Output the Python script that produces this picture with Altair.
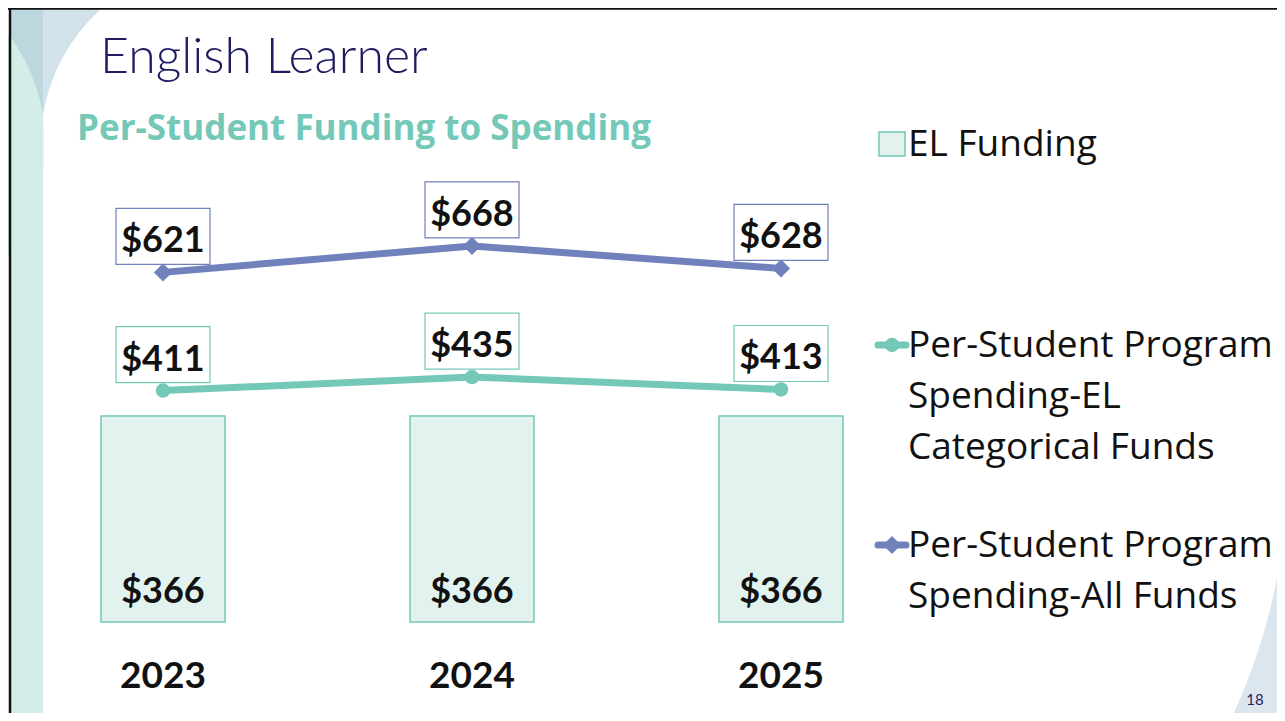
import altair as alt
import pandas as pd

# ---- data ----
years = [2023, 2024, 2025]
el_funding = [366, 366, 366]
spend_el = [411, 435, 413]
spend_all = [621, 668, 628]

title_text = "English Learner"
subtitle_text = "Per-Student Funding to Spending"
legend_bar = "EL Funding"
legend_el = ["Per-Student Program", "Spending-EL", "Categorical Funds"]
legend_all = ["Per-Student Program", "Spending-All Funds"]
page_no = "18"

df = pd.DataFrame({
    "year": years,
    "el_funding": el_funding,
    "spend_el": spend_el,
    "spend_all": spend_all,
})
one = pd.DataFrame({"k": [0]})

# ---- styles ----
TEAL = "#74c8b7"
PURPLE = "#7181bb"
BAR_FILL = "#e2f3ef"
NAVY = "#1f1c5f"
STRIP = "#d5ede8"
DARK = "#bdd7de"
LIGHTBLUE = "#d2e2ea"
BRBLUE = "#dce6ef"
FONT = "Lato"
FONT2 = "Open Sans"

W, H = 1269, 705

xs = alt.Scale(domain=[2023, 2025], range=[155, 773], nice=False, zero=False, padding=0)
ys = alt.Scale(domain=[0, 1090.6], range=[614, 0], nice=False, zero=True, padding=0)


def X():
    return alt.X("year:Q", scale=xs, axis=None)


def Y(field):
    return alt.Y(f"{field}:Q", scale=ys, axis=None)


def rect(x, x2, y, y2, color):
    return alt.Chart(one).mark_rect(color=color, opacity=1).encode(
        x=alt.value(x), x2=alt.value(x2), y=alt.value(y), y2=alt.value(y2))


def circle(cx, cy, r, color):
    return alt.Chart(one).mark_point(shape="circle", size=(2 * r) ** 2, filled=True,
                                     color=color, opacity=1).encode(
        x=alt.value(cx), y=alt.value(cy))


def label(txt, x, y, size, color="#111111", weight="normal", align="left", font=FONT):
    return alt.Chart(one).mark_text(font=font, fontSize=size, fontWeight=weight,
                                    color=color, align=align,
                                    baseline="alphabetic").encode(
        x=alt.value(x), y=alt.value(y), text=alt.value(txt))


# ---- decorations ----
deco = [
    rect(1080, W, 380, H, BRBLUE),
    circle(698, 462, 581, "white"),
    rect(35, 92, 0, 108, LIGHTBLUE),
    circle(215.7, 137.1, 183.2, "white"),
    rect(3, 35, 0, H, STRIP),
    rect(3, 35, 0, 108, DARK),
    circle(-145.7, 137.1, 183.2, STRIP),
    rect(35.5, 39, 108, 200, "white"),
]

# ---- chart marks ----
base = alt.Chart(df)

bars = base.mark_bar(size=124, fill=BAR_FILL, stroke=TEAL, strokeWidth=1.5).encode(
    x=X(), y=Y("el_funding"))

zero_base = base.transform_calculate(zero="0")

bar_labels = zero_base.mark_text(font=FONT, fontSize=36, fontWeight="bold",
                                 color="#111111", baseline="alphabetic", dy=-19).encode(
    x=X(), y=Y("zero"), text=alt.Text("el_funding:Q", format="$,.0f"))

year_labels = zero_base.mark_text(font=FONT, fontSize=37, fontWeight="bold",
                                  color="#111111", baseline="alphabetic", dy=66).encode(
    x=X(), y=Y("zero"), text=alt.Text("year:Q", format="d"))


def series(field, color, shape, msize):
    line = base.mark_line(color=color, strokeWidth=7, strokeCap="round",
                          strokeJoin="round").encode(x=X(), y=Y(field))
    pts = base.mark_point(shape=shape, size=msize, filled=True, color=color,
                          opacity=1).encode(x=X(), y=Y(field))
    box = base.mark_point(shape="M-47,-28H47V28H-47Z", size=4, filled=True,
                          fill="white", stroke=color, strokeWidth=1.2,
                          opacity=1, yOffset=-36).encode(x=X(), y=Y(field))
    txt = base.mark_text(font=FONT, fontSize=36, fontWeight="bold", color="#111111",
                         baseline="alphabetic", dy=-20).encode(
        x=X(), y=Y(field), text=alt.Text(f"{field}:Q", format="$,.0f"))
    return [line, pts, box, txt]


el_layers = series("spend_el", TEAL, "circle", 210)
all_layers = series("spend_all", PURPLE, "diamond", 330)

# ---- titles ----
titles = [
    label(title_text, 92, 65, 50, color=NAVY, weight=300),
    label(subtitle_text, 69, 132, 35, color=TEAL, weight="bold", font=FONT2),
    label(page_no, 1247, 697, 15, color=NAVY, align="center"),
]

# ---- legend ----
legend = [
    alt.Chart(one).mark_rect(fill=BAR_FILL, stroke=TEAL, strokeWidth=1.5).encode(
        x=alt.value(871), x2=alt.value(897), y=alt.value(124), y2=alt.value(148)),
    label(legend_bar, 900, 148, 37, font=FONT2),
    alt.Chart(one).mark_rule(color=TEAL, strokeWidth=7, strokeCap="round").encode(
        x=alt.value(870), x2=alt.value(898), y=alt.value(337)),
    alt.Chart(one).mark_point(shape="circle", size=210, filled=True, color=TEAL,
                              opacity=1).encode(x=alt.value(884), y=alt.value(337)),
    alt.Chart(one).mark_rule(color=PURPLE, strokeWidth=7, strokeCap="round").encode(
        x=alt.value(870), x2=alt.value(898), y=alt.value(537)),
    alt.Chart(one).mark_point(shape="diamond", size=330, filled=True, color=PURPLE,
                              opacity=1).encode(x=alt.value(884), y=alt.value(537)),
]
for i, line_txt in enumerate(legend_el):
    legend.append(label(line_txt, 900, 349 + 51 * i, 37, font=FONT2))
for i, line_txt in enumerate(legend_all):
    legend.append(label(line_txt, 900, 549 + 51 * i, 37, font=FONT2))

# ---- slide border ----
border = [
    alt.Chart(one).mark_rule(color="#111111", strokeWidth=2.5).encode(
        x=alt.value(0), x2=alt.value(W), y=alt.value(0.5)),
    alt.Chart(one).mark_rule(color="#111111", strokeWidth=2.5).encode(
        x=alt.value(2), y=alt.value(0), y2=alt.value(H)),
]

chart = alt.layer(
    *deco, bars, bar_labels, year_labels, *el_layers, *all_layers,
    *titles, *legend, *border
).properties(
    width=W, height=H,
    autosize=alt.AutoSizeParams(type="none"),
    padding=0,
    background="white",
).configure_view(stroke=None)

chart.save("out.html", embed_options={"renderer": "svg", "actions": False})
